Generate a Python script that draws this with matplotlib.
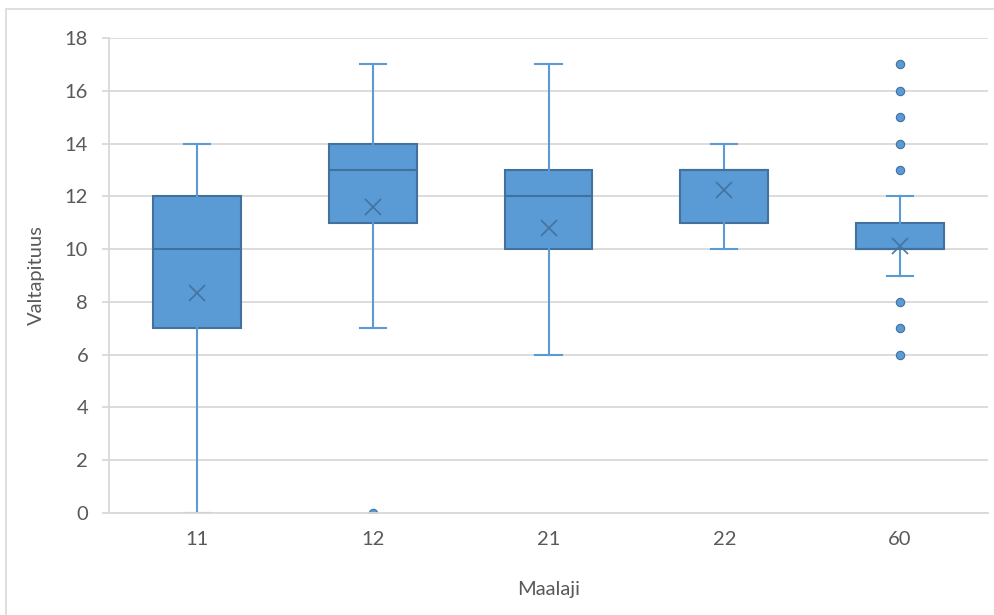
import matplotlib.pyplot as plt
from matplotlib.patches import Rectangle

# values
categories = ['11', '12', '21', '22', '60']
whisker_low = [0, 7, 6, 10, 9]
q1 = [7, 11, 10, 11, 10]
median = [10, 13, 12, 13, 10]
q3 = [12, 14, 13, 13, 11]
whisker_high = [14, 17, 17, 14, 12]
means = [8.33, 11.6, 10.8, 12.24, 10.12]
outliers = [[], [0], [], [], [6, 7, 8, 13, 14, 15, 16, 17]]

fill = '#5B9BD5'
edge = '#41719C'
grid_col = '#D9D9D9'
text_col = '#595959'

plt.rcParams['font.family'] = ['Lato', 'DejaVu Sans']

fig = plt.figure(figsize=(9.95, 6.15), dpi=100)
ax = fig.add_axes([109 / 995, 1 - 513 / 615, 879 / 995, 475 / 615])

stats = []
for i, name in enumerate(categories):
    stats.append({
        'label': name,
        'whislo': whisker_low[i],
        'q1': q1[i],
        'med': median[i],
        'q3': q3[i],
        'whishi': whisker_high[i],
        'mean': means[i],
        'fliers': outliers[i],
    })

ax.bxp(stats,
       positions=range(len(categories)),
       widths=0.5,
       patch_artist=True,
       showmeans=True,
       boxprops=dict(facecolor=fill, edgecolor=edge, linewidth=1.5),
       medianprops=dict(color=edge, linewidth=1.5),
       whiskerprops=dict(color=fill, linewidth=1.5),
       capprops=dict(color=fill, linewidth=1.5),
       capwidths=0.15,
       meanprops=dict(marker='x', markersize=11, markeredgecolor=edge,
                      markeredgewidth=1.3, alpha=0.9),
       flierprops=dict(marker='o', markersize=6, markerfacecolor=fill,
                       markeredgecolor=edge, markeredgewidth=0.8))

ax.set_xlim(-0.5, len(categories) - 0.5)
ax.set_ylim(0, 18)
ax.set_yticks(range(0, 19, 2))
ax.yaxis.grid(True, color=grid_col, linewidth=1.3)
ax.set_axisbelow(True)

for side in ['top', 'right']:
    ax.spines[side].set_visible(False)
ax.spines['left'].set_color(grid_col)
ax.spines['bottom'].set_color(grid_col)
ax.spines['left'].set_linewidth(1.3)
ax.spines['bottom'].set_linewidth(1.3)
ax.tick_params(axis='y', colors=grid_col, length=5, width=1.3,
               labelcolor=text_col, labelsize=14.5, pad=10)
ax.tick_params(axis='x', length=0, labelcolor=text_col, labelsize=14.5,
               pad=13)

ax.set_ylabel('Valtapituus', color=text_col, fontsize=14.5, labelpad=14)
ax.set_xlabel('Maalaji', color=text_col, fontsize=14.5, labelpad=24)

fig.patches.append(Rectangle((6 / 995, -0.05), 1.1, 1 - 9 / 615 + 0.05,
                             transform=fig.transFigure, fill=False,
                             edgecolor=grid_col, linewidth=1.2))

fig.savefig('out.png', dpi=100)
